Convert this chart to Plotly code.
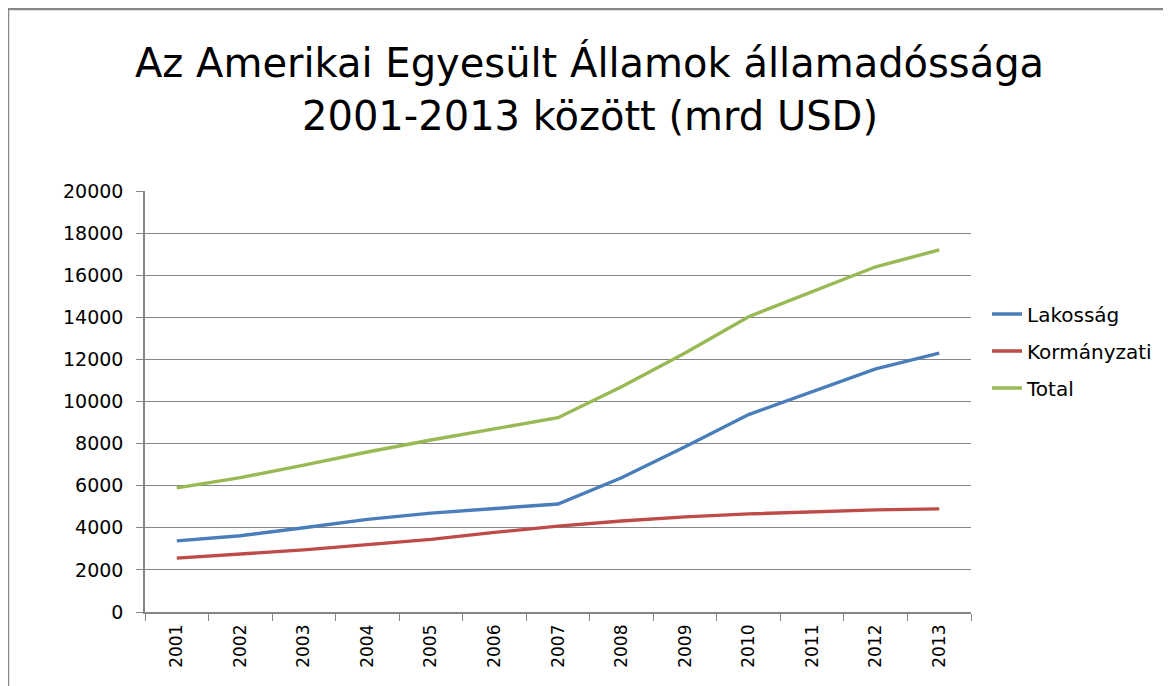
import plotly.graph_objects as go

years = ["2001", "2002", "2003", "2004", "2005", "2006", "2007",
         "2008", "2009", "2010", "2011", "2012", "2013"]
lakossag = [3380, 3620, 4000, 4400, 4700, 4900, 5130, 6380, 7850, 9380, 10450, 11550, 12300]
kormanyzati = [2560, 2760, 2950, 3200, 3450, 3780, 4080, 4320, 4520, 4660, 4760, 4850, 4900]
total = [5900, 6380, 6980, 7600, 8170, 8700, 9230, 10700, 12300, 14030, 15200, 16400, 17200]

series_names = ["Lakosság", "Kormányzati", "Total"]
series_values = [lakossag, kormanyzati, total]
series_colors = ["#4A7EBB", "#BE4B48", "#98B954"]
title_lines = ["Az Amerikai Egyesült Államok államadóssága", "2001-2013 között (mrd USD)"]

FONT = "DejaVu Sans"

# plot area in screen px (page body has an 8px margin)
PL, PR, PT, PB = 145, 971, 191, 612
PW, PH = PR - PL, PB - PT


def px_x(x):
    return (x - PL) / PW


def px_y(y):
    return (PB - y) / PH


fig = go.Figure()
for i, (name, vals, col) in enumerate(zip(series_names, series_values, series_colors)):
    fig.add_trace(go.Scatter(
        x=years, y=vals, name=name, mode="lines",
        line=dict(color=col, width=3.4),
        legendgroup=f"g{i}",
    ))

fig.update_layout(
    width=1171, height=686,
    paper_bgcolor="white", plot_bgcolor="white",
    margin=dict(l=PL - 8, r=1171 + 8 - PR, t=PT - 8, b=686 + 8 - PB),
    font=dict(family=FONT, color="#000000", size=16),
    legend=dict(
        x=px_x(987), xanchor="left", y=px_y(351), yanchor="middle",
        font=dict(family=FONT, size=20, color="#000000"),
        traceorder="grouped", tracegroupgap=8,
        bgcolor="rgba(0,0,0,0)",
    ),
    showlegend=True,
    xaxis=dict(
        type="category", range=[-0.5, 12.5],
        tickson="boundaries", ticks="outside", ticklen=7, tickcolor="#868686",
        showline=True, linecolor="#868686", linewidth=1.5,
        showgrid=False, tickangle=-90, ticklabelstandoff=4,
        tickfont=dict(family=FONT, size=17, color="#000000"),
    ),
    yaxis=dict(
        range=[0, 20000], dtick=2000, tickformat="d",
        ticks="outside", ticklen=7, tickcolor="#868686",
        showline=True, linecolor="#868686", linewidth=1.5,
        showgrid=True, gridcolor="#868686", gridwidth=1.2,
        zeroline=False, ticklabelstandoff=9,
        tickfont=dict(family=FONT, size=19, color="#000000"),
    ),
    shapes=[dict(
        type="rect", xref="paper", yref="paper",
        x0=px_x(8), x1=px_x(1190),
        y0=px_y(700), y1=px_y(9),
        line=dict(color="#868686", width=2.5), fillcolor="rgba(0,0,0,0)",
        layer="below",
    )],
    annotations=[
        dict(text=title_lines[0], xref="paper", yref="paper",
             x=px_x(589.5), y=px_y(62), xanchor="center", yanchor="middle",
             showarrow=False, font=dict(family=FONT, size=40, color="#000000")),
        dict(text=title_lines[1], xref="paper", yref="paper",
             x=px_x(589.5), y=px_y(116), xanchor="center", yanchor="middle",
             showarrow=False, font=dict(family=FONT, size=40, color="#000000")),
    ],
)

fig.write_html("out.html")
